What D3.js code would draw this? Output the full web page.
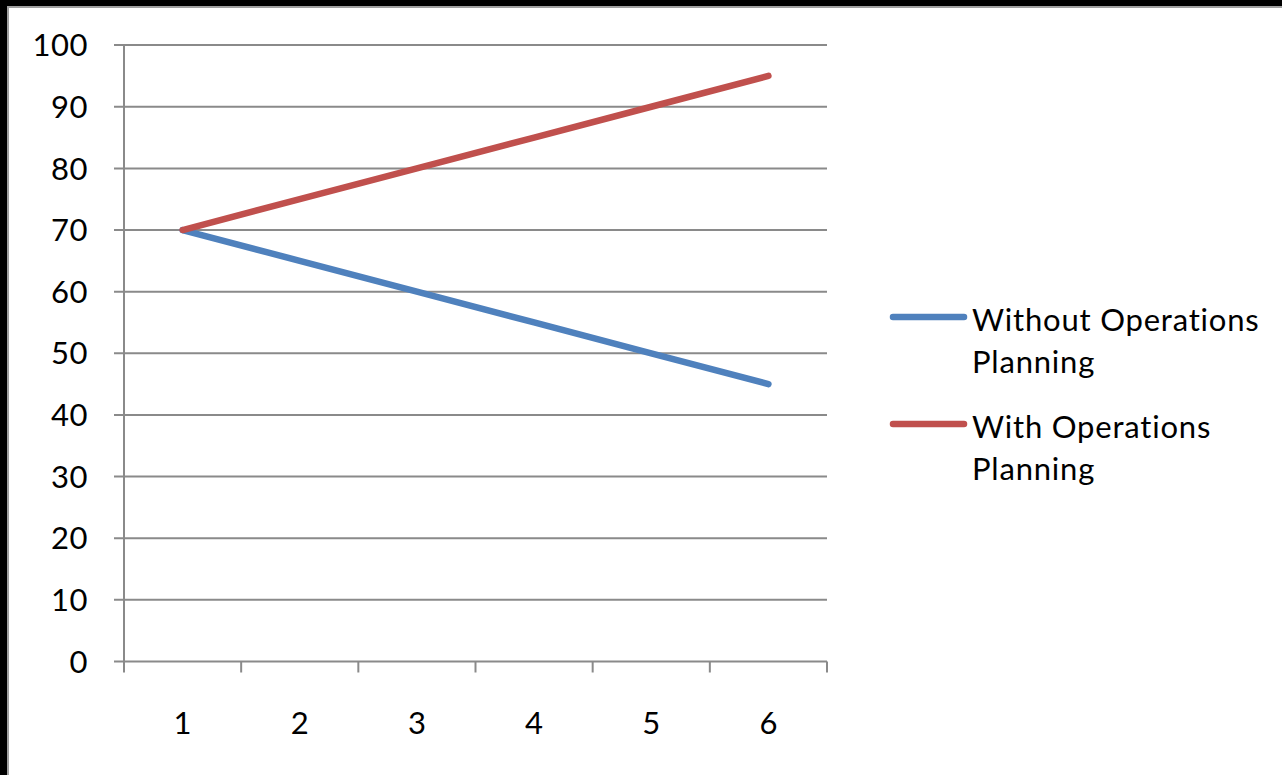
<!DOCTYPE html>
<html><head><meta charset="utf-8">
<script src="https://cdn.jsdelivr.net/npm/d3@7"></script>
<style>
html,body{margin:0;padding:0;background:#fff;overflow:hidden}
svg{display:block}
text{font-family:Lato,"Open Sans",sans-serif;fill:#000}
</style></head>
<body>
<svg id="c" width="1282" height="775"></svg>
<script>
const categories = ["1","2","3","4","5","6"];
const seriesNames = ["Without Operations Planning","With Operations Planning"];
const withoutPlanning = [70,65,60,55,50,45];
const withPlanning = [70,75,80,85,90,95];
const yTicks = [0,10,20,30,40,50,60,70,80,90,100];
const colors = ["#4F81BD","#C0504D"];

(function(){
const svg = d3.select("#c");
svg.append("rect").attr("x",0).attr("y",0).attr("width",1282).attr("height",775).attr("fill","#000");
svg.append("rect").attr("x",7).attr("y",6).attr("width",1275).attr("height",769).attr("fill","#a0a0a0");
svg.append("rect").attr("x",9).attr("y",8).attr("width",1273).attr("height",767).attr("fill","#fff");

const pL=124, pR=827, pT=45.1, pB=661.5;
const x = d3.scaleBand().domain(categories).range([pL,pR]).padding(0);
const y = d3.scaleLinear().domain([0,100]).range([pB,pT]);

const gridColor="#8a8a8a";
svg.append("g").selectAll("line").data(yTicks).join("line")
  .attr("x1",pL-10).attr("x2",pR).attr("y1",d=>y(d)).attr("y2",d=>y(d))
  .attr("stroke",gridColor).attr("stroke-width",2);
svg.append("line").attr("x1",pL).attr("x2",pL).attr("y1",pT).attr("y2",pB)
  .attr("stroke",gridColor).attr("stroke-width",2);
const xt = categories.map(c=>x(c)).concat([pR]);
svg.append("g").selectAll("line").data(xt).join("line")
  .attr("x1",d=>d).attr("x2",d=>d).attr("y1",pB).attr("y2",pB+11)
  .attr("stroke",gridColor).attr("stroke-width",2);
svg.append("g").selectAll("text").data(yTicks).join("text")
  .attr("x",88).attr("y",d=>y(d)).attr("dy","0.36em").attr("text-anchor","end")
  .attr("font-size",31).attr("letter-spacing","0.5px").text(d=>d);
svg.append("g").selectAll("text").data(categories).join("text")
  .attr("x",d=>x(d)+x.bandwidth()/2).attr("y",723).attr("dy","0.36em").attr("text-anchor","middle")
  .attr("font-size",31).text(d=>d);

const line = d3.line().x((d,i)=>x(categories[i])+x.bandwidth()/2).y(d=>y(d));
[withoutPlanning, withPlanning].forEach((s,i)=>{
  svg.append("path").attr("d",line(s)).attr("fill","none").attr("stroke",colors[i])
    .attr("stroke-width",6.5).attr("stroke-linecap","round").attr("stroke-linejoin","round");
});

const legY=[317,424];
const legLines=[["Without Operations","Planning"],["With Operations","Planning"]];
legY.forEach((ly,i)=>{
  svg.append("line").attr("x1",893).attr("x2",964).attr("y1",ly).attr("y2",ly)
    .attr("stroke",colors[i]).attr("stroke-width",6.5).attr("stroke-linecap","round");
  const t = svg.append("text").attr("x",972).attr("y",ly+3).attr("font-size",31).attr("letter-spacing","0.8px");
  legLines[i].forEach((s,j)=>{
    t.append("tspan").attr("x",972).attr("dy",j===0?"0.36em":"1.35em").text(s);
  });
});
})();
</script>
</body></html>
